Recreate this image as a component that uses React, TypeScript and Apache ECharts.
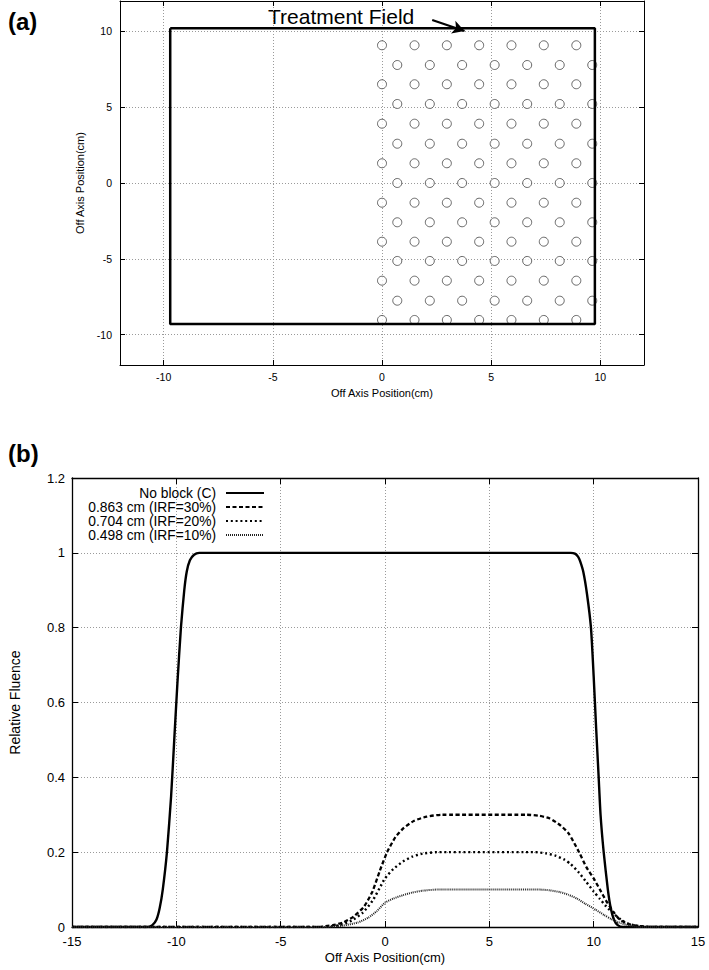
import React, { useEffect, useRef } from "react";
import * as echarts from "echarts";

const FONT = "'Liberation Sans', Arial, Helvetica, sans-serif";

// ---- (a) treatment field and holes ----
const fieldX = [-9.7, 9.75];
const fieldY = [10.2, -9.3];
const holeRowY = [9.08, 7.78, 6.51, 5.21, 3.91, 2.59, 1.3, 0, -1.3, -2.59, -3.87, -5.14, -6.44, -7.76, -9.03];
const holeColA = [0, 1.49, 2.97, 4.45, 5.93, 7.41, 8.9];
const holeColB = [0.7, 2.19, 3.67, 5.16, 6.65, 8.14, 9.63];
const arrowStart = [2.3, 10.75];
const arrowEnd = [3.78, 10.02];
const topTicks = [-10, -5, 0, 5, 10];

// ---- (b) fluence profiles ----
const seriesNames = ["No block (C)", "0.863 cm (IRF=30%)", "0.704 cm (IRF=20%)", "0.498 cm (IRF=10%)"];
const noBlock = [
  [-15, 0], [-11.4, 0], [-11.15, 0.005], [-10.95, 0.02], [-10.8, 0.05], [-10.65, 0.1], [-10.45, 0.2],
  [-10.25, 0.35], [-10.1, 0.5], [-9.95, 0.65], [-9.78, 0.8], [-9.62, 0.9], [-9.5, 0.95], [-9.35, 0.98],
  [-9.15, 0.995], [-8.9, 1], [8.9, 1], [9.1, 0.998], [9.25, 0.99], [9.35, 0.978], [9.5, 0.95], [9.68, 0.89],
  [9.87, 0.8], [10.0, 0.67], [10.12, 0.53], [10.24, 0.4], [10.33, 0.3], [10.48, 0.2], [10.68, 0.1],
  [10.82, 0.05], [10.97, 0.02], [11.15, 0.005], [11.4, 0], [15, 0],
];
const irf30 = [
  [-15, 0], [-3.2, 0], [-2.5, 0.005], [-2.0, 0.012], [-1.5, 0.028], [-1.0, 0.055], [-0.6, 0.095],
  [-0.25, 0.15], [0.1, 0.2], [0.5, 0.24], [0.9, 0.265], [1.4, 0.284], [2.0, 0.295], [2.7, 0.3],
  [6.8, 0.3], [7.4, 0.297], [7.9, 0.29], [8.4, 0.272], [8.8, 0.25], [9.3, 0.2], [9.65, 0.16],
  [10.0, 0.13], [10.3, 0.1], [10.6, 0.07], [10.95, 0.04], [11.25, 0.02], [11.6, 0.009], [12.0, 0.004],
  [12.8, 0], [15, 0],
];
const irf20 = [
  [-15, 0], [-3.0, 0], [-2.2, 0.005], [-1.6, 0.017], [-1.07, 0.038], [-0.6, 0.07], [-0.2, 0.11],
  [0, 0.13], [0.4, 0.155], [0.86, 0.175], [1.3, 0.188], [1.8, 0.196], [2.5, 0.2], [7.2, 0.2],
  [7.7, 0.197], [8.2, 0.19], [8.6, 0.18], [8.9, 0.168], [9.3, 0.145], [9.65, 0.12], [10.0, 0.095],
  [10.3, 0.075], [10.6, 0.055], [10.95, 0.036], [11.3, 0.02], [11.6, 0.01], [12.0, 0.004], [12.6, 0],
  [15, 0],
];
const irf10 = [
  [-15, 0], [-2.8, 0], [-2.0, 0.004], [-1.3, 0.012], [-0.8, 0.025], [-0.4, 0.042], [0, 0.065],
  [0.4, 0.076], [0.86, 0.085], [1.3, 0.092], [1.8, 0.097], [2.5, 0.1], [7.4, 0.1], [7.9, 0.098],
  [8.4, 0.093], [8.8, 0.086], [9.2, 0.076], [9.6, 0.062], [10.1, 0.046], [10.5, 0.032], [10.85, 0.021],
  [11.2, 0.012], [11.6, 0.006], [12.2, 0], [15, 0],
];

const gridLine = { show: true, lineStyle: { color: "#9a9a9a", width: 1, type: [1, 2] as any } };

function buildOption() {
  const fieldPath = [
    [fieldX[0], fieldY[0]],
    [fieldX[1], fieldY[0]],
    [fieldX[1], fieldY[1]],
    [fieldX[0], fieldY[1]],
    [fieldX[0], fieldY[0]],
  ];
  const holes: number[][] = [];
  holeRowY.forEach((y, i) => {
    const cols = i % 2 === 0 ? holeColA : holeColB;
    cols.forEach((x) => holes.push([x, y]));
  });

  const axisLineA = { show: true, onZero: false, lineStyle: { color: "#000", width: 1 } };
  const axisLineB = { show: true, onZero: false, lineStyle: { color: "#000", width: 1.3 } };

  return {
    animation: false,
    backgroundColor: "#fff",
    textStyle: { fontFamily: FONT },
    grid: [
      { left: 120, top: 1, width: 524, height: 364 },
      { left: 64, top: 478, width: 634, height: 449 },
    ],
    xAxis: [
      {
        gridIndex: 0, type: "value", min: -12, max: 12, position: "bottom",
        name: "Off Axis Position(cm)", nameLocation: "middle", nameGap: 22,
        nameTextStyle: { fontSize: 11, color: "#000", fontFamily: FONT },
        axisLine: axisLineA,
        axisTick: { show: true, inside: true, length: 5, customValues: topTicks, lineStyle: { color: "#000" } },
        axisLabel: { show: true, customValues: topTicks, margin: 6, fontSize: 10.5, color: "#000", fontFamily: FONT },
        splitLine: gridLine,
      },
      {
        gridIndex: 0, type: "value", min: -12, max: 12, position: "top",
        axisLine: axisLineA,
        axisTick: { show: true, inside: true, length: 5, customValues: topTicks, lineStyle: { color: "#000" } },
        axisLabel: { show: false },
        splitLine: { show: false },
      },
      {
        gridIndex: 1, type: "value", min: -15, max: 15, interval: 5, position: "bottom",
        name: "Off Axis Position(cm)", nameLocation: "middle", nameGap: 24,
        nameTextStyle: { fontSize: 13, color: "#000", fontFamily: FONT },
        axisLine: axisLineB,
        axisTick: { show: true, inside: true, length: 6, lineStyle: { color: "#000" } },
        axisLabel: { show: true, margin: 8, fontSize: 13, color: "#000", fontFamily: FONT },
        splitLine: gridLine,
      },
      {
        gridIndex: 1, type: "value", min: -15, max: 15, interval: 5, position: "top",
        axisLine: axisLineB,
        axisTick: { show: true, inside: true, length: 6, lineStyle: { color: "#000" } },
        axisLabel: { show: false },
        splitLine: { show: false },
      },
    ],
    yAxis: [
      {
        gridIndex: 0, type: "value", min: -12, max: 12, position: "left",
        name: "Off Axis Position(cm)", nameLocation: "middle", nameGap: 33, nameRotate: 90,
        nameTextStyle: { fontSize: 11, color: "#000", fontFamily: FONT },
        axisLine: axisLineA,
        axisTick: { show: true, inside: true, length: 5, customValues: topTicks, lineStyle: { color: "#000" } },
        axisLabel: { show: true, customValues: topTicks, margin: 8, fontSize: 10.5, color: "#000", fontFamily: FONT },
        splitLine: gridLine,
      },
      {
        gridIndex: 0, type: "value", min: -12, max: 12, position: "right",
        axisLine: axisLineA,
        axisTick: { show: true, inside: true, length: 5, customValues: topTicks, lineStyle: { color: "#000" } },
        axisLabel: { show: false },
        splitLine: { show: false },
      },
      {
        gridIndex: 1, type: "value", min: 0, max: 1.2, interval: 0.2, position: "left",
        name: "Relative Fluence", nameLocation: "middle", nameGap: 50, nameRotate: 90,
        nameTextStyle: { fontSize: 14, color: "#000", fontFamily: FONT },
        axisLine: axisLineB,
        axisTick: { show: true, inside: true, length: 6, lineStyle: { color: "#000" } },
        axisLabel: { show: true, margin: 7, fontSize: 13, color: "#000", fontFamily: FONT },
        splitLine: gridLine,
      },
      {
        gridIndex: 1, type: "value", min: 0, max: 1.2, interval: 0.2, position: "right",
        axisLine: axisLineB,
        axisTick: { show: true, inside: true, length: 6, lineStyle: { color: "#000" } },
        axisLabel: { show: false },
        splitLine: { show: false },
      },
    ],
    legend: {
      data: seriesNames,
      orient: "vertical",
      right: 444,
      top: 486,
      padding: 0,
      itemGap: 0,
      itemWidth: 38,
      itemHeight: 12,
      align: "right",
      selectedMode: false,
      itemStyle: { opacity: 0, color: "rgba(0,0,0,0)", borderWidth: 0 },
      textStyle: {
        fontFamily: FONT, fontSize: 13.8, color: "#000", width: 150, align: "right",
        padding: [0, 5, 0, 0], lineHeight: 14,
      },
    },
    graphic: [
      { type: "text", left: 8, top: 9, style: { text: "(a)", font: `bold 24px ${FONT}`, fill: "#000" } },
      { type: "text", left: 8, top: 441, style: { text: "(b)", font: `bold 24px ${FONT}`, fill: "#000" } },
      { type: "text", left: 268, top: 6, style: { text: "Treatment Field", font: `21px ${FONT}`, fill: "#000" } },
    ],
    series: [
      {
        type: "scatter", xAxisIndex: 0, yAxisIndex: 0, data: holes,
        symbol: "circle", symbolSize: 9, silent: true,
        itemStyle: { color: "#fff", borderColor: "#444", borderWidth: 1 },
        z: 3,
      },
      {
        type: "line", xAxisIndex: 0, yAxisIndex: 0, data: fieldPath,
        symbol: "none", silent: true,
        lineStyle: { color: "#000", width: 2.5 },
        z: 4,
        markLine: {
          silent: true, symbol: ["none", "arrow"], symbolSize: [10, 12],
          label: { show: false },
          lineStyle: { color: "#000", width: 2, type: "solid" },
          data: [[{ coord: arrowStart }, { coord: arrowEnd }]],
        },
      },
      {
        name: seriesNames[0], type: "line", xAxisIndex: 2, yAxisIndex: 2, data: noBlock,
        symbol: "none", smooth: 0.2, itemStyle: { color: "#000" },
        lineStyle: { color: "#000", width: 2.4, type: "solid" }, z: 5,
      },
      {
        name: seriesNames[1], type: "line", xAxisIndex: 2, yAxisIndex: 2, data: irf30,
        symbol: "none", smooth: 0.2, itemStyle: { color: "#000" },
        lineStyle: { color: "#000", width: 2.3, type: [4, 2.5] }, z: 5,
      },
      {
        name: seriesNames[2], type: "line", xAxisIndex: 2, yAxisIndex: 2, data: irf20,
        symbol: "none", smooth: 0.2, itemStyle: { color: "#000" },
        lineStyle: { color: "#000", width: 2.4, type: [2, 2.8] }, z: 5,
      },
      {
        name: seriesNames[3], type: "line", xAxisIndex: 2, yAxisIndex: 2, data: irf10,
        symbol: "none", smooth: 0.2, itemStyle: { color: "#222" },
        lineStyle: { color: "#222", width: 2, type: [1, 1] }, z: 5,
      },
    ],
  };
}

export default function App() {
  const ref = useRef<HTMLDivElement>(null);
  useEffect(() => {
    if (!ref.current) return;
    const chart = echarts.init(ref.current, null, { renderer: "svg" });
    chart.setOption(buildOption() as any);
    return () => chart.dispose();
  }, []);
  return (
    <div
      ref={ref}
      style={{ position: "absolute", left: 0, top: 0, width: 709, height: 970, background: "#fff" }}
    />
  );
}
